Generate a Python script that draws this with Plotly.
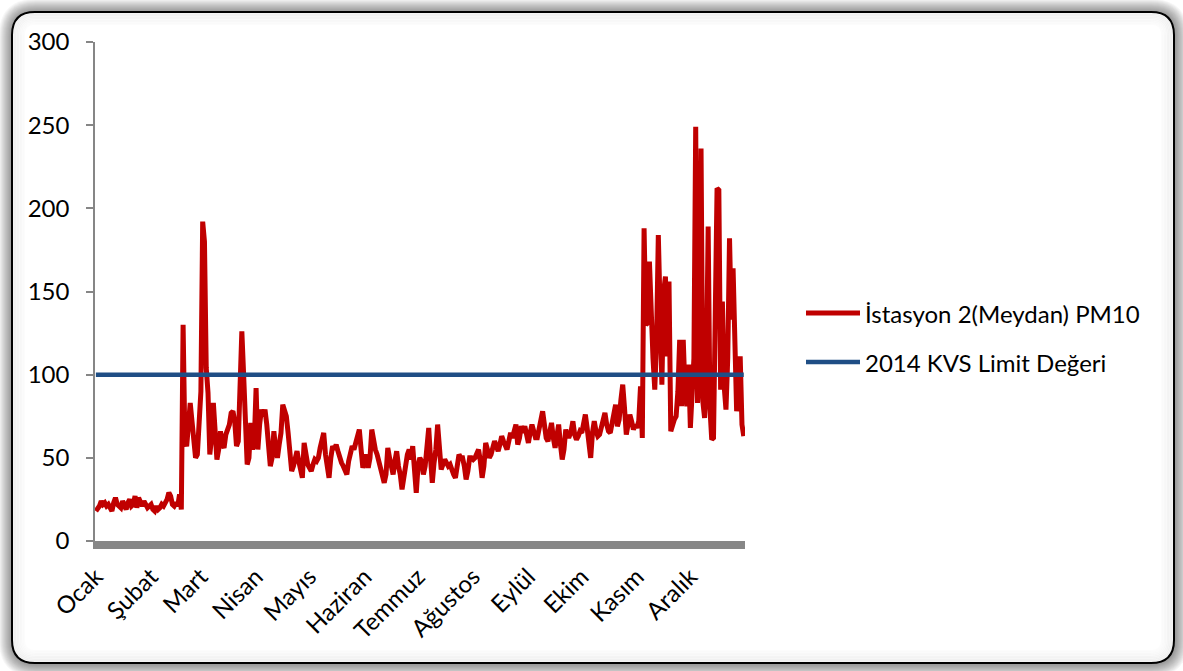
import plotly.graph_objects as go

# Canvas and plot-area geometry (pixels)
W, H = 1183, 671
ML, MR, MT, MB = 95, 438, 42, 130
PW, PH = W - ML - MR, H - MT - MB

FONT = "Lato"
RED = "#C00000"
BLUE = "#1F4E85"
AXIS_GRAY = "#868686"

months = ["Ocak", "Şubat", "Mart", "Nisan", "Mayıs", "Haziran",
          "Temmuz", "Ağustos", "Eylül", "Ekim", "Kasım", "Aralık"]

# Daily PM10 concentrations (µg/m³), one list per month
ocak = [18, 19, 21, 24, 22, 23, 21, 22, 20, 18, 23, 26, 22, 21, 20, 24, 22, 19, 23, 25,
        21, 22, 27, 20, 26, 23, 21, 24, 22, 20, 21]
subat = [22, 19, 18, 21, 19, 20, 22, 21, 23, 25, 29, 27, 22, 21, 23, 21, 28, 19, 130, 60,
         57, 70, 83, 72, 62, 50, 52, 75]
mart = [90, 192, 180, 104, 89, 52, 62, 83, 70, 49, 55, 66, 58, 56, 64, 68, 70, 77, 78, 72,
        57, 60, 100, 126, 100, 60, 46, 50, 71, 55, 60]
nisan = [92, 55, 70, 79, 75, 79, 70, 60, 45, 50, 66, 55, 50, 58, 65, 82, 78, 75, 65, 50,
         42, 45, 50, 54, 48, 44, 38, 59, 52, 46]
mayis = [44, 42, 46, 49, 48, 50, 56, 62, 65, 52, 45, 38, 50, 57, 55, 58, 54, 49, 47, 45,
         42, 40, 48, 52, 57, 55, 60, 64, 67, 55, 44]
haziran = [48, 52, 44, 50, 67, 60, 55, 52, 48, 42, 38, 35, 40, 56, 50, 44, 40, 48, 54, 45,
           40, 31, 40, 49, 52, 55, 49, 57, 40, 29]
temmuz = [45, 50, 48, 40, 45, 55, 68, 50, 35, 47, 55, 70, 55, 43, 46, 49, 47, 45, 46, 42,
          40, 38, 48, 52, 50, 50, 45, 37, 42, 50, 50]
agustos = [49, 50, 52, 55, 48, 38, 45, 59, 55, 50, 52, 56, 60, 57, 54, 58, 63, 60, 57, 55,
           60, 65, 62, 66, 70, 58, 62, 69, 65, 69, 63]
eylul = [59, 65, 70, 66, 62, 62, 68, 72, 78, 70, 62, 60, 65, 71, 62, 56, 63, 70, 58, 49,
         55, 67, 63, 63, 66, 72, 64, 61, 63, 66]
ekim = [65, 70, 76, 68, 60, 50, 65, 72, 66, 63, 64, 68, 72, 77, 70, 66, 65, 70, 76, 82,
        69, 73, 85, 94, 80, 64, 70, 76, 72, 67, 70]
kasim = [68, 72, 93, 62, 188, 130, 131, 168, 131, 110, 91, 120, 184, 140, 94, 150, 159, 111, 156, 66,
         70, 73, 75, 90, 121, 81, 121, 90, 81, 106]
aralik = [68, 93, 110, 249, 83, 100, 236, 84, 74, 100, 189, 80, 61, 62, 120, 212, 211, 91, 144, 93,
          79, 110, 182, 133, 164, 130, 78, 95, 111, 70, 63]

monthly = [ocak, subat, mart, nisan, mayis, haziran, temmuz, agustos, eylul, ekim, kasim, aralik]
pm10 = [v for m in monthly for v in m]
days = list(range(len(pm10)))

limit_value = 100
limit = [limit_value] * len(days)

month_starts = []
acc = 0
for m in monthly:
    month_starts.append(acc)
    acc += len(m)

series_names = ["İstasyon 2(Meydan) PM10", "2014 KVS Limit Değeri"]
y_ticks = [0, 50, 100, 150, 200, 250, 300]


def fx(px):
    return (px - ML) / PW


def fy(py):
    return (H - MB - py) / PH


def rounded_rect(x0, y0, x1, y1, r):
    """SVG path (paper coords) for a rounded rectangle given in pixels."""
    pts = [
        ("M", [(x0 + r, y0)]),
        ("L", [(x1 - r, y0)]),
        ("Q", [(x1, y0), (x1, y0 + r)]),
        ("L", [(x1, y1 - r)]),
        ("Q", [(x1, y1), (x1 - r, y1)]),
        ("L", [(x0 + r, y1)]),
        ("Q", [(x0, y1), (x0, y1 - r)]),
        ("L", [(x0, y0 + r)]),
        ("Q", [(x0, y0), (x0 + r, y0)]),
    ]
    parts = []
    for cmd, coords in pts:
        parts.append(cmd + " ".join(f"{fx(a):.5f},{fy(b):.5f}" for a, b in coords))
    return " ".join(parts) + " Z"


fig = go.Figure()

fig.add_trace(go.Scatter(
    x=days, y=pm10, mode="lines", name=series_names[0],
    line=dict(color=RED, width=5), showlegend=False,
))
fig.add_trace(go.Scatter(
    x=days, y=limit, mode="lines", name=series_names[1],
    line=dict(color=BLUE, width=4.5), showlegend=False,
))

shapes = []

# Soft glow around the chart frame (stacked translucent layers)
FX0, FY0, FX1, FY1, FR = 12, 12, 1174, 663, 23
for g in range(14, 0, -1):
    shapes.append(dict(
        type="path", xref="paper", yref="paper", layer="below",
        path=rounded_rect(FX0 - g + 1, FY0 - g + 1, FX1 + g, FY1 + g, FR + g),
        fillcolor="rgba(0,0,0,0.035)", line=dict(width=0),
    ))

# White frame with black outline
shapes.append(dict(
    type="path", xref="paper", yref="paper", layer="below",
    path=rounded_rect(FX0, FY0, FX1, FY1, FR),
    fillcolor="white", line=dict(color="black", width=2),
))

# Inner soft edge
for i in range(1, 9):
    shapes.append(dict(
        type="path", xref="paper", yref="paper", layer="below",
        path=rounded_rect(FX0 + 1.5 * i, FY0 + 1.5 * i, FX1 - 1.5 * i, FY1 - 1.5 * i,
                          max(FR - 1.5 * i, 4)),
        fillcolor="rgba(0,0,0,0)",
        line=dict(color=f"rgba(0,0,0,{0.05 - 0.005 * i:.3f})", width=2),
    ))

# Category-axis floor band
shapes.append(dict(
    type="rect", xref="paper", yref="paper", layer="above",
    x0=fx(93), x1=fx(745), y0=0, y1=fy(549),
    fillcolor="#878787", line=dict(width=0),
))

# Legend entries
legend_rows = [(313, RED, 5), (362, BLUE, 4.5)]
annotations = []
for (py, col, w), name in zip(legend_rows, series_names):
    shapes.append(dict(
        type="line", xref="paper", yref="paper",
        x0=fx(806), x1=fx(860), y0=fy(py), y1=fy(py),
        line=dict(color=col, width=w),
    ))
    annotations.append(dict(
        xref="paper", yref="paper", x=fx(863), y=fy(py),
        xanchor="left", yanchor="middle", text=name, showarrow=False,
        font=dict(family=FONT, size=24, color="black"),
    ))

fig.update_layout(
    width=W, height=H,
    margin=dict(l=ML, r=MR, t=MT, b=MB),
    paper_bgcolor="white", plot_bgcolor="rgba(0,0,0,0)",
    font=dict(family=FONT, color="black"),
    shapes=shapes, annotations=annotations,
    showlegend=False,
)

fig.update_xaxes(
    range=[-0.5, len(days) - 0.3],
    tickmode="array", tickvals=month_starts, ticktext=months,
    tickangle=-45, tickfont=dict(family=FONT, size=24, color="black"),
    showgrid=False, zeroline=False, showline=False, ticks="",
    ticklabelstandoff=16,
)
fig.update_yaxes(
    range=[0, 300], tickmode="array", tickvals=y_ticks,
    tickfont=dict(family=FONT, size=24, color="black"),
    showgrid=False, zeroline=False,
    showline=True, linecolor=AXIS_GRAY, linewidth=1.5,
    ticks="outside", ticklen=7, tickcolor=AXIS_GRAY, tickwidth=1.5,
    ticklabelstandoff=12,
)

fig.write_html("out.html")
